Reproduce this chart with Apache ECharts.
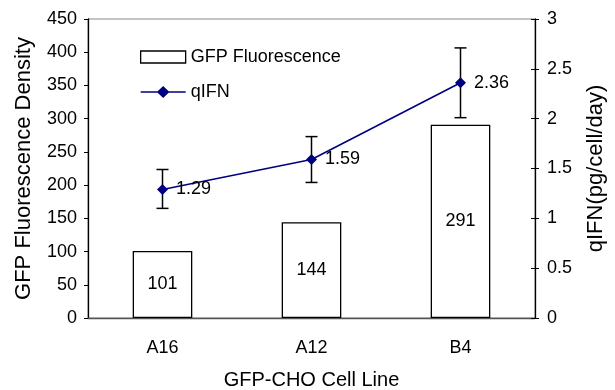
<!DOCTYPE html>
<html>
<head>
<meta charset="utf-8">
<script src="https://cdn.jsdelivr.net/npm/echarts@6/dist/echarts.min.js"></script>
<style>
  html, body { margin: 0; padding: 0; background: #fff; }
  #chart { width: 615px; height: 390px; }
</style>
</head>
<body>
<div id="chart"></div>
<script>
const cellLines = ['A16', 'A12', 'B4'];
const gfpValues = [101, 144, 291];
const qifnValues = [1.29, 1.59, 2.36];
const qifnLow = [1.10, 1.36, 2.01];
const qifnHigh = [1.49, 1.82, 2.71];

const font = 'Liberation Sans, Arial, sans-serif';
const navy = '#000080';
const tickSize = 18;
const titleSize = 20;
const sideTitleSize = 22;

// legend icon: thin line with a diamond in the middle
const lineDiamondIcon = 'path://M0,5.3L17,5.3L22.5,0L28,5.3L45,5.3L45,6.7L28,6.7L22.5,12L17,6.7L0,6.7Z';

const chart = echarts.init(document.getElementById('chart'));

const errorData = cellLines.map((c, i) => [i, qifnLow[i], qifnHigh[i]]);

function renderError(params, api) {
    const x = api.value(0);
    const lo = api.coord([x, api.value(1)]);
    const hi = api.coord([x, api.value(2)]);
    const w = 6;
    const style = { stroke: '#000', lineWidth: 1.5 };
    return {
        type: 'group',
        children: [
            { type: 'line', shape: { x1: lo[0], y1: lo[1], x2: hi[0], y2: hi[1] }, style },
            { type: 'line', shape: { x1: lo[0] - w, y1: lo[1], x2: lo[0] + w, y2: lo[1] }, style },
            { type: 'line', shape: { x1: hi[0] - w, y1: hi[1], x2: hi[0] + w, y2: hi[1] }, style }
        ]
    };
}

const option = {
    animation: false,
    textStyle: { fontFamily: font },
    grid: {
        left: 88, right: 80, top: 19, bottom: 72,
        outerBoundsMode: 'none',
        show: true, borderColor: '#888', borderWidth: 1
    },
    legend: {
        orient: 'vertical',
        left: 135,
        top: 43,
        itemWidth: 45,
        itemHeight: 12,
        itemGap: 17,
        textStyle: { fontFamily: font, fontSize: tickSize, color: '#000' },
        data: [
            { name: 'GFP Fluorescence', icon: 'rect', itemStyle: { color: '#fff', borderColor: '#000', borderWidth: 1.3 } },
            { name: 'qIFN', icon: lineDiamondIcon, itemStyle: { color: navy, borderWidth: 0 } }
        ]
    },
    xAxis: [
        {
            type: 'category',
            data: cellLines,
            name: 'GFP-CHO Cell Line',
            nameLocation: 'middle',
            nameGap: 52,
            nameTextStyle: { fontSize: titleSize, color: '#000', fontFamily: font },
            axisLine: { lineStyle: { color: '#555', width: 1.3 } },
            axisTick: { length: 5, lineStyle: { color: '#555' } },
            axisLabel: { fontSize: tickSize, color: '#000', margin: 21, fontFamily: font }
        },
        {
            type: 'category',
            data: cellLines,
            position: 'bottom',
            axisLine: { show: false },
            axisTick: { inside: true, length: 5, lineStyle: { color: '#555' } },
            axisLabel: { show: false }
        }
    ],
    yAxis: [
        {
            type: 'value',
            min: 0, max: 450, interval: 50,
            name: 'GFP Fluorescence Density',
            nameLocation: 'middle',
            nameGap: 53,
            nameTextStyle: { fontSize: sideTitleSize, color: '#000', fontFamily: font },
            axisLine: { show: true, lineStyle: { color: '#000', width: 1.3 } },
            axisTick: { show: true, length: 4, lineStyle: { color: '#000' } },
            axisLabel: { fontSize: tickSize, color: '#000', margin: 11, fontFamily: font },
            splitLine: { show: false }
        },
        {
            type: 'value',
            min: 0, max: 3, interval: 0.5,
            position: 'right',
            name: 'qIFN(pg/cell/day)',
            nameLocation: 'middle',
            nameGap: 50,
            nameRotate: 90,
            nameTextStyle: { fontSize: sideTitleSize, color: '#000', fontFamily: font },
            axisLine: { show: true, lineStyle: { color: '#000', width: 1.3 } },
            axisTick: { show: true, length: 4, lineStyle: { color: '#000' } },
            axisLabel: { fontSize: tickSize, color: '#000', margin: 12, fontFamily: font },
            splitLine: { show: false }
        },
        {
            type: 'value',
            min: 0, max: 3, interval: 0.5,
            position: 'right',
            axisLine: { show: false },
            axisTick: { show: true, inside: true, length: 4, lineStyle: { color: '#000' } },
            axisLabel: { show: false },
            splitLine: { show: false }
        }
    ],
    series: [
        {
            name: 'GFP Fluorescence',
            type: 'bar',
            data: gfpValues,
            barWidth: '40%',
            itemStyle: { color: '#fff', borderColor: '#000', borderWidth: 1.3 },
            label: { show: true, position: 'inside', fontSize: tickSize, color: '#000', fontFamily: font }
        },
        {
            name: 'qIFN error',
            type: 'custom',
            yAxisIndex: 1,
            renderItem: renderError,
            data: errorData,
            z: 3
        },
        {
            name: 'qIFN',
            type: 'line',
            yAxisIndex: 1,
            data: qifnValues,
            symbol: 'diamond',
            symbolSize: 11,
            color: navy,
            lineStyle: { color: navy, width: 1.6 },
            itemStyle: { color: navy },
            label: { show: true, position: 'right', distance: 8, fontSize: tickSize, color: '#000', fontFamily: font },
            z: 4
        }
    ]
};

chart.setOption(option);
</script>
</body>
</html>
